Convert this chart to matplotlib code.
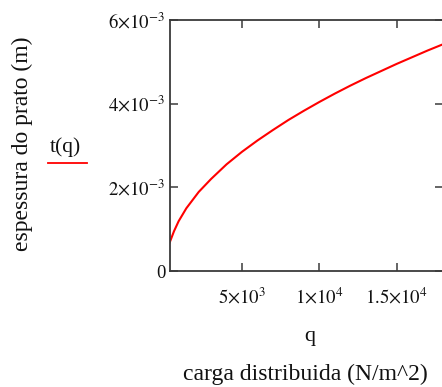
import matplotlib
matplotlib.use("Agg")
import matplotlib.pyplot as plt
from matplotlib.lines import Line2D

plt.rcParams["font.family"] = ["Liberation Serif", "DejaVu Serif"]
plt.rcParams["mathtext.fontset"] = "stix"

# thickness of the plate t(q) as a function of the distributed load q
q_load = [300, 600, 900, 1400, 2200, 3000, 4000, 5000, 6000, 7000, 8000, 9000,
          10000, 11000, 12000, 13000, 14000, 15000, 16000, 17000, 18000]
t_thick = [0.66e-3, 0.95e-3, 1.19e-3, 1.50e-3, 1.89e-3, 2.20e-3, 2.55e-3, 2.85e-3,
           3.12e-3, 3.37e-3, 3.61e-3, 3.83e-3, 4.04e-3, 4.24e-3, 4.43e-3, 4.61e-3,
           4.78e-3, 4.95e-3, 5.11e-3, 5.27e-3, 5.42e-3]

x_ticks = [5000, 10000, 15000]
x_ticklabels = [r"$5{\times}10^{3}$", r"$1{\times}10^{4}$", r"$1.5{\times}10^{4}$"]
y_ticks = [0, 2e-3, 4e-3, 6e-3]
y_ticklabels = ["0", r"$2{\times}10^{-3}$", r"$4{\times}10^{-3}$", r"$6{\times}10^{-3}$"]

W, H = 442, 387
fig = plt.figure(figsize=(W / 100, H / 100), dpi=100)

left, right, top, bottom = 169.5, 443.0, 20.0, 271.0
ax = fig.add_axes([left / W, 1 - bottom / H, (right - left) / W, (bottom - top) / H])

ax.plot(q_load, t_thick, color="#ff0000", lw=1.5, solid_capstyle="butt")

ax.set_xlim(310, 18000)
ax.set_ylim(0, 6e-3)
ax.set_xticks(x_ticks)
ax.set_xticklabels(x_ticklabels)
ax.set_yticks(y_ticks)
ax.set_yticklabels(y_ticklabels)

for s in ax.spines.values():
    s.set_color("#3a3a3a")
    s.set_linewidth(1.3)

ax.tick_params(axis="both", direction="in", length=6, width=1.1, color="#3a3a3a",
               top=True, right=True, labelsize=13.5, labelcolor="#111111")
ax.tick_params(axis="x", pad=12)
ax.tick_params(axis="y", pad=3)


def px(x, y):
    return x / W, 1 - y / H


fig.text(*px(22, 144), "espessura do prato (m)", rotation=90, ha="center",
         va="center", fontsize=17, color="#111111")
fig.text(*px(310, 336), "q", ha="center", va="center", fontsize=16, color="#111111")
fig.text(*px(305, 374), "carga distribuida (N/m^2)", ha="center", va="center",
         fontsize=17, color="#111111")

# legend entry for the curve
fig.text(*px(65, 147), "t(q)", ha="center", va="center", fontsize=15.5, color="#111111")
fig.add_artist(Line2D([48 / W, 87 / W], [1 - 163 / H, 1 - 163 / H], color="#ff0000", lw=1.3))

fig.savefig("out.png", dpi=100)
